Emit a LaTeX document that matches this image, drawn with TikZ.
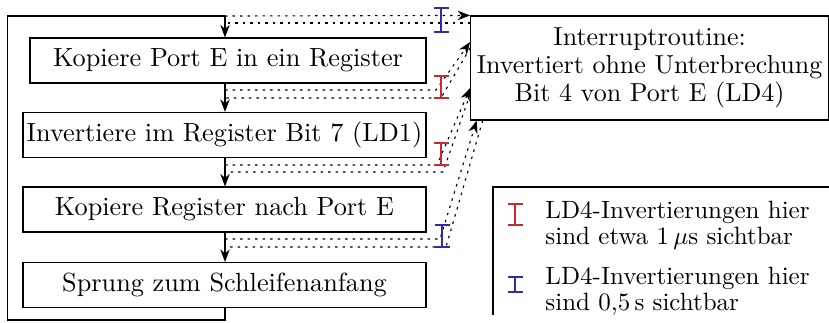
\documentclass[tikz,border=0pt]{standalone}
\usetikzlibrary{arrows.meta,calc}
\definecolor{barred}{RGB}{195,45,45}
\definecolor{barblue}{RGB}{45,45,170}
\newcommand\ibar[4]{% colour, x, top y, bottom y
  \draw[tbar,#1] ($(#2,#3)+(-7.5,0)$) -- ++(15,0)
                 (#2,#3) -- (#2,#4)
                 ($(#2,#4)+(-7.5,0)$) -- ++(15,0);}
\begin{document}
\begin{tikzpicture}[x=0.4pt,y=-0.4pt,
  box/.style={draw,line width=0.45pt,inner sep=0pt,minimum height=18pt,
              font=\fontsize{10.5}{12.6}\selectfont},
  flow/.style={line width=0.45pt,-{Stealth}},
  irq/.style={line width=0.45pt,dash pattern=on 1pt off 2pt},
  irqarrow/.style={irq,-{Stealth}},
  tbar/.style={line width=0.5pt},
  legendtext/.style={anchor=base west,align=left,inner sep=0pt,
              font=\fontsize{10}{10.2}\selectfont}]
\useasboundingbox (0,0) rectangle (829,322);

% main loop
\node[box,minimum width=158.4pt] (b1) at (228,60.5) {Kopiere Port E in ein Register};
\node[box,minimum width=161.2pt] (b2) at (224.5,135) {Invertiere im Register Bit 7 (LD1)};
\node[box,minimum width=161.2pt] (b3) at (224.5,209.5) {Kopiere Register nach Port E};
\node[box,minimum width=161.2pt] (b4) at (224.5,285) {Sprung zum Schleifenanfang};

% interrupt routine
\node[box,minimum width=143.1pt,minimum height=41.6pt,align=center,
      font=\fontsize{10.4}{11.2}\selectfont] (intr) at (649.6,68)
  {Interruptroutine:\\Invertiert ohne Unterbrechung\\Bit 4 von Port E (LD4)};

\coordinate (fx) at (225,0);
\coordinate (top) at (225,16);
\coordinate (topL) at (7.5,16);
\coordinate (botL) at (7.5,320);
\coordinate (bot) at (225,320);

\draw[line width=0.45pt] (b4.south -| fx) -- (bot) -- (botL) -- (topL) -- (top);
\draw[flow] (top) -- (b1.north -| fx);
\draw[flow] (b1.south -| fx) -- (b2.north -| fx);
\draw[flow] (b2.south -| fx) -- (b3.north -| fx);
\draw[flow] (b3.south -| fx) -- (b4.north -| fx);

% interrupt entries and returns
\coordinate (aR) at (225,23);
\draw[irqarrow] (top) -- (intr.north west);
\draw[irq] (intr.west |- aR) -- (aR);

\coordinate (bO) at (225,90);   \coordinate (bK) at (436,90);
\coordinate (bR) at (225,98);   \coordinate (bJ) at (441,98);
\path (intr.west) ++(0,-26) coordinate (bT) ++(0,6) coordinate (bS);
\draw[irqarrow] (bO) -- (bK) -- (bT);
\draw[irq] (bS) -- (bJ) -- (bR);

\coordinate (cO) at (225,165);  \coordinate (cK) at (437,165);
\coordinate (cR) at (225,172);  \coordinate (cJ) at (443,172);
\path (intr.west) ++(0,20) coordinate (cT) ++(0,6) coordinate (cS);
\draw[irqarrow] (cO) -- (cK) -- (cT);
\draw[irq] (cS) -- (cJ) -- (cR);

\coordinate (dO) at (225,239);  \coordinate (dK) at (440,239);
\coordinate (dR) at (225,247);  \coordinate (dJ) at (446,247);
\path (intr.south west) ++(6.5,0) coordinate (dT) ++(6,0) coordinate (dS);
\draw[irqarrow] (dO) -- (dK) -- (dT);
\draw[irq] (dS) -- (dJ) -- (dR);

% visibility markers
\ibar{barblue}{441}{8}{32}
\ibar{barred}{441}{76}{98}
\ibar{barred}{441}{143}{165}
\ibar{barblue}{442}{225}{247}

% legend
\draw[line width=0.45pt] (829,187) coordinate (lgR) -- (493,187) coordinate (lgTL) -- (493,315) coordinate (lgBL);
\ibar{barred}{515}{204}{225}
\ibar{barblue}{515}{277}{292}
\node[legendtext] (l1) at (545,244)
  {LD4-Invertierungen hier\\sind etwa 1\,$\mu$s sichtbar};
\node[legendtext] (l2) at (545,310)
  {LD4-Invertierungen hier\\sind 0,5\,s sichtbar};
\end{tikzpicture}
\end{document}
